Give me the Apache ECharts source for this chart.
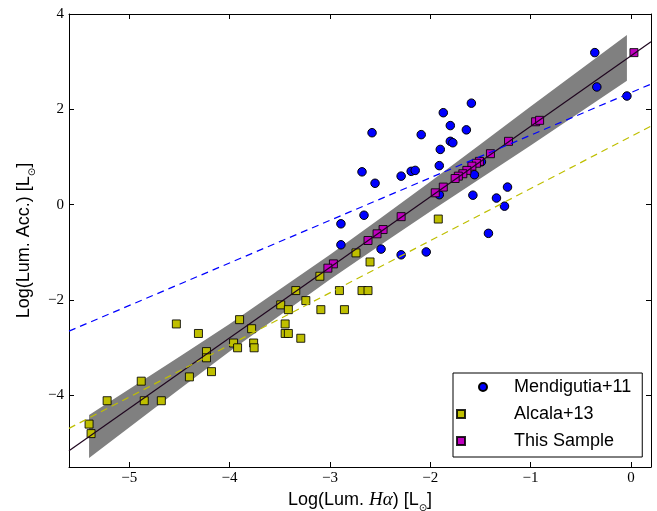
<!DOCTYPE html>
<html>
<head>
<meta charset="utf-8">
<script src="https://cdn.jsdelivr.net/npm/echarts@6/dist/echarts.min.js"></script>
<style>
    html, body { margin: 0; padding: 0; background: #fff; }
    #chart { width: 657px; height: 511px; }
</style>
</head>
<body>
<div id="chart"></div>
<script>
    // Mendigutia+11 (blue circles)
    var mendigutia = [
        [-0.36, 3.19], [-0.34, 2.47], [-0.04, 2.28], [-1.59, 2.13], [-1.87, 1.93],
        [-2.58, 1.51], [-2.09, 1.47], [-1.80, 1.66], [-1.64, 1.57], [-1.80, 1.33],
        [-1.775, 1.30], [-1.90, 1.16], [-1.91, 0.82], [-2.68, 0.69], [-2.55, 0.45],
        [-2.29, 0.60], [-2.19, 0.70], [-2.15, 0.72], [-1.56, 0.63], [-1.49, 0.90],
        [-1.91, 0.21], [-1.575, 0.20], [-1.23, 0.37], [-1.34, 0.14], [-1.26, -0.03],
        [-2.66, -0.22], [-1.42, -0.60], [-2.49, -0.93], [-2.04, -0.99], [-2.29, -1.05],
        [-2.89, -0.40], [-2.89, -0.84]
    ];
    // Alcala+13 (yellow squares)
    var alcala = [
        [-5.40, -4.60], [-5.38, -4.80], [-5.22, -4.11], [-4.88, -3.70], [-4.85, -4.11],
        [-4.68, -4.11], [-4.53, -2.50], [-4.40, -3.61], [-4.31, -2.70], [-4.23, -3.08],
        [-4.23, -3.21], [-4.18, -3.50], [-3.96, -2.90], [-3.92, -3.00], [-3.90, -2.41],
        [-3.78, -2.60], [-3.76, -2.90], [-3.755, -3.00], [-3.49, -2.10], [-3.446, -2.50],
        [-3.446, -2.70], [-3.414, -2.70], [-3.414, -2.20], [-3.34, -1.80], [-3.29, -2.80],
        [-3.24, -2.01], [-3.10, -1.50], [-3.09, -2.20], [-2.905, -1.80], [-2.855, -2.20],
        [-2.74, -1.01], [-2.68, -1.80], [-2.62, -1.80], [-2.60, -1.20], [-1.92, -0.30]
    ];
    // This Sample (magenta squares)
    var thisSample = [
        [0.03, 3.19], [-0.95, 1.74], [-0.91, 1.77], [-1.22, 1.33], [-1.40, 1.07],
        [-1.51, 0.91], [-1.54, 0.87], [-1.585, 0.81], [-1.635, 0.72], [-1.675, 0.65],
        [-1.72, 0.60], [-1.752, 0.55], [-1.87, 0.37], [-1.95, 0.25], [-2.29, -0.25],
        [-2.47, -0.52], [-2.53, -0.61], [-2.62, -0.75], [-2.965, -1.24], [-3.02, -1.33]
    ];
    // fitted lines (end points)
    var fitLine = [[-5.6, -5.16], [0.2, 3.42]];
    var mendigutiaFit = [[-5.6, -2.65], [0.2, 2.53]];
    var alcalaFit = [[-5.6, -4.69], [0.2, 1.65]];
    // grey band round the fit
    var bandX = [-5.4, -4.5, -4.0, -3.0, -2.5, -2.0, -1.5, -1.0, -0.04];
    var bandHigh = [-4.41, -3.19, -2.50, -1.05, -0.29, 0.48, 1.27, 2.06, 3.56];
    var bandLow = [-5.31, -3.87, -3.08, -1.57, -0.85, -0.14, 0.55, 1.24, 2.60];
    // ticks
    var xTicks = [-5, -4, -3, -2, -1, 0];
    var yTicks = [-4, -2, 0, 2, 4];

    function minusSign(v) {
        return String(v).replace('-', '\u2212');
    }

    var tickFont = {
        color: '#000',
        fontFamily: 'Liberation Serif',
        fontSize: 15
    };
    var nameRich = {
        t: { fontFamily: 'Liberation Sans', fontSize: 18, lineHeight: 26, color: '#000' },
        m: { fontFamily: 'Liberation Serif', fontStyle: 'italic', fontSize: 19, lineHeight: 26, color: '#000' },
        s: { fontFamily: 'DejaVu Sans', fontSize: 10, verticalAlign: 'bottom', color: '#000' }
    };
    var axisLine = { show: true, onZero: false, lineStyle: { color: '#000', width: 1 } };
    function ticks(list) {
        return { show: true, inside: true, length: 5, customValues: list, lineStyle: { color: '#000', width: 1 } };
    }

    var option = {
        animation: false,
        backgroundColor: '#fff',
        grid: { left: 69, right: 6, top: 14, bottom: 44, containLabel: false, outerBoundsMode: 'none' },
        legend: {
            data: ['Mendigutia+11', 'Alcala+13', 'This Sample'],
            orient: 'vertical',
            left: 453,
            top: 373,
            padding: [4, 11, 6, 3],
            itemWidth: 52,
            itemHeight: 8,
            itemGap: 7,
            borderColor: '#000',
            borderWidth: 1,
            borderRadius: 0,
            backgroundColor: '#fff',
            textStyle: { fontFamily: 'Liberation Sans', fontSize: 18, lineHeight: 20, color: '#000' }
        },
        xAxis: [
            {
                type: 'value', position: 'bottom', min: -5.6, max: 0.2,
                axisLine: axisLine, axisTick: ticks(xTicks), splitLine: { show: false },
                axisLabel: Object.assign({ margin: 4, customValues: xTicks, formatter: minusSign }, tickFont),
                name: '{t|Log(Lum. }{m|Hα}{t|) [L}{s|⊙}{t|]}',
                nameLocation: 'middle',
                nameGap: 11,
                nameTextStyle: { rich: nameRich }
            },
            {
                type: 'value', position: 'top', min: -5.6, max: 0.2,
                axisLine: axisLine, axisTick: ticks(xTicks), splitLine: { show: false },
                axisLabel: { show: false }
            }
        ],
        yAxis: [
            {
                type: 'value', position: 'left', min: -5.5, max: 4,
                axisLine: axisLine, axisTick: ticks(yTicks), splitLine: { show: false },
                axisLabel: Object.assign({ margin: 5, customValues: yTicks, formatter: minusSign }, tickFont),
                name: '{t|Log(Lum. Acc.) [L}{s|⊙}{t|]}',
                nameLocation: 'middle',
                nameRotate: 90,
                nameGap: 32,
                nameTextStyle: { rich: nameRich }
            },
            {
                type: 'value', position: 'right', min: -5.5, max: 4,
                axisLine: axisLine, axisTick: ticks(yTicks), splitLine: { show: false },
                axisLabel: { show: false }
            }
        ],
        series: [
            {
                type: 'custom',
                name: 'band',
                silent: true,
                z: 1,
                data: [[bandX[0], bandLow[0]]],
                renderItem: function (params, api) {
                    var pts = [];
                    for (var i = 0; i < bandX.length; i++) {
                        pts.push(api.coord([bandX[i], bandHigh[i]]));
                    }
                    for (var j = bandX.length - 1; j >= 0; j--) {
                        pts.push(api.coord([bandX[j], bandLow[j]]));
                    }
                    return { type: 'polygon', shape: { points: pts }, style: { fill: '#808080' } };
                }
            },
            {
                type: 'scatter',
                name: 'Mendigutia+11',
                data: mendigutia,
                symbol: 'circle',
                symbolSize: 8.5,
                z: 2,
                itemStyle: { color: '#0000ff', borderColor: '#000', borderWidth: 1, opacity: 1 }
            },
            {
                type: 'scatter',
                name: 'Alcala+13',
                data: alcala,
                symbol: 'square',
                symbolSize: 8,
                z: 3,
                itemStyle: { color: '#bfbf00', borderColor: 'rgba(0,0,0,0.85)', borderWidth: 1, opacity: 1 }
            },
            {
                type: 'scatter',
                name: 'This Sample',
                data: thisSample,
                symbol: 'square',
                symbolSize: 8,
                z: 4,
                itemStyle: { color: '#bf00bf', borderColor: 'rgba(0,0,0,0.85)', borderWidth: 1, opacity: 1 }
            },
            {
                type: 'line',
                name: 'fit',
                data: fitLine,
                symbol: 'none',
                silent: true,
                z: 5,
                lineStyle: { color: '#1f061f', width: 1.2 }
            },
            {
                type: 'line',
                name: 'mendigutiaFit',
                data: mendigutiaFit,
                symbol: 'none',
                silent: true,
                z: 5,
                lineStyle: { color: '#0000ff', width: 1.2, type: [7, 5] }
            },
            {
                type: 'line',
                name: 'alcalaFit',
                data: alcalaFit,
                symbol: 'none',
                silent: true,
                z: 5,
                lineStyle: { color: '#bfbf00', width: 1.2, type: [7, 5] }
            }
        ]
    };

    var chart = echarts.init(document.getElementById('chart'));
    chart.setOption(option);
</script>
</body>
</html>
